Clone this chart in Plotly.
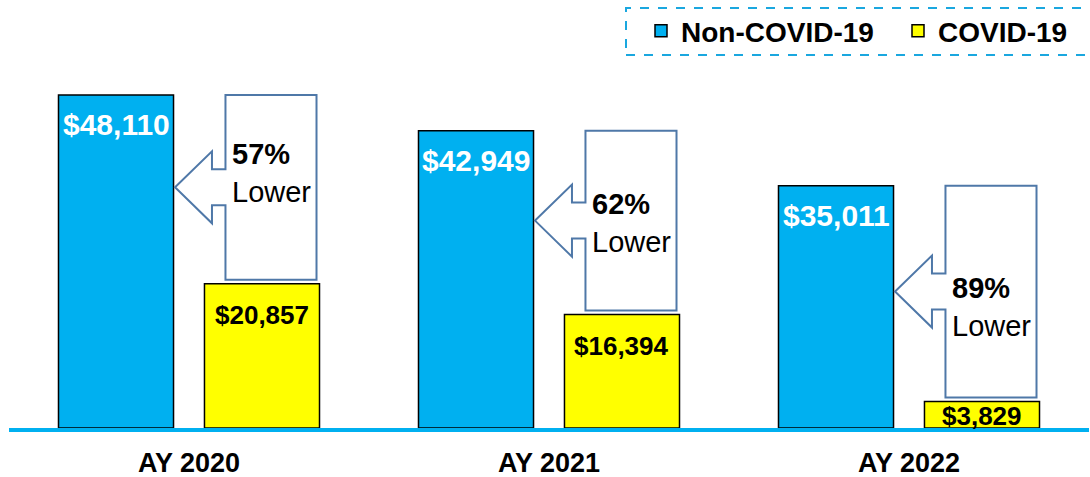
import plotly.graph_objects as go

# ---- data ----
categories = ["AY 2020", "AY 2021", "AY 2022"]
non_covid = [48110, 42949, 35011]
covid = [20857, 16394, 3829]
pct_lower = ["57%", "62%", "89%"]
series_names = ["Non-COVID-19", "COVID-19"]

# ---- styling (pixel offsets of callout text relative to callout centre) ----
callout_text_dy = [-14, 2, 15]

# ---- layout constants ----
W, H = 1090, 477
M_L, M_R, M_T, M_B = 9, 1, 60, 49
plot_w = W - M_L - M_R
plot_h = H - M_T - M_B
ymax = max(non_covid) * plot_h / 333.0
u = ymax / plot_h  # data units per pixel


def py2paper(py):
    return (M_T + plot_h - py) / plot_h


def px2paper(px):
    return (px - M_L) / plot_w


BARGAP = 0.189
BARGROUPGAP = 0.212
cat_px = plot_w / len(categories)
slot_px = cat_px * (1 - BARGAP) / 2
bar_px = slot_px * (1 - BARGROUPGAP)

BLUE = "#00B0F0"
YELLOW = "#FFFF00"
CALLOUT = "#4F78A8"
FONT = "Arial, Liberation Sans, sans-serif"
FS_BLUE, FS_YEL, FS_CALL, FS_LEG, FS_TICK = 30, 26, 29, 28, 27

xs = list(range(len(categories)))

fig = go.Figure()
fig.add_bar(x=xs, y=non_covid, name=series_names[0], marker=dict(color=BLUE, line=dict(color="black", width=1.5)))
fig.add_bar(x=xs, y=covid, name=series_names[1], marker=dict(color=YELLOW, line=dict(color="black", width=1.5)))

annotations = []
shapes = []
for i, (a, b, p) in enumerate(zip(non_covid, covid, pct_lower)):
    # value labels
    annotations.append(dict(x=i, y=a, xref="x", yref="y", xshift=-slot_px / 2,
                            yshift=-(22 - 0.36 * FS_BLUE),
                            text=f"${a:,}", showarrow=False, yanchor="top",
                            font=dict(family=FONT, size=FS_BLUE, color="white", weight="bold")))
    bpx = b / u
    gap = min(23.5, bpx - 20)
    annotations.append(dict(x=i, y=b, xref="x", yref="y", xshift=slot_px / 2,
                            yshift=-(gap - 0.36 * FS_YEL),
                            text=f"${b:,}", showarrow=False, yanchor="top",
                            font=dict(family=FONT, size=FS_YEL, color="black", weight="bold")))
    # callout arrow
    tip_x = -slot_px / 2 + bar_px / 2 + 1.5
    body_l = slot_px / 2 - bar_px / 2 + 21
    body_r = slot_px / 2 + bar_px / 2 - 3
    head_b = body_l - 13.5
    top = a
    bot = b + 4 * u
    mid = (top + bot) / 2
    nk = 18 * u
    hd = 36 * u
    pts = [(body_l, top), (body_r, top), (body_r, bot), (body_l, bot),
           (body_l, mid - nk), (head_b, mid - nk), (head_b, mid - hd), (tip_x, mid),
           (head_b, mid + hd), (head_b, mid + nk), (body_l, mid + nk)]
    path = "M " + " L ".join(f"{px:.2f},{py:.2f}" for px, py in pts) + " Z"
    shapes.append(dict(type="path", xref="x", yref="y", xsizemode="pixel", xanchor=i,
                       path=path, fillcolor="white", line=dict(color=CALLOUT, width=2),
                       layer="above"))
    annotations.append(dict(x=i, y=mid, xref="x", yref="y", xshift=body_l + 5,
                            yshift=-callout_text_dy[i],
                            xanchor="left", yanchor="middle", align="left", showarrow=False,
                            text=f"<b>{p}</b><br>Lower",
                            font=dict(family=FONT, size=FS_CALL, color="black")))

# dashed legend box
shapes.append(dict(type="rect", xref="paper", yref="paper",
                   x0=px2paper(626), x1=px2paper(1100),
                   y0=py2paper(55), y1=py2paper(8),
                   line=dict(color="#1AA7DF", width=2, dash="dash"), fillcolor="rgba(0,0,0,0)",
                   layer="below"))

fig.update_layout(
    width=W, height=H,
    margin=dict(l=M_L, r=M_R, t=M_T, b=M_B, pad=0, autoexpand=False),
    paper_bgcolor="white", plot_bgcolor="white",
    barmode="group", bargap=BARGAP, bargroupgap=BARGROUPGAP,
    showlegend=True,
    legend=dict(orientation="h", x=px2paper(641), xanchor="left",
                y=py2paper(31), yanchor="middle",
                font=dict(family=FONT, size=FS_LEG, color="black", weight="bold"),
                bgcolor="rgba(0,0,0,0)", entrywidth=212, entrywidthmode="pixels",
                traceorder="normal"),
    xaxis=dict(tickvals=xs, ticktext=categories, range=[-0.5, len(categories) - 0.5],
               showgrid=False, zeroline=False, showline=True, linecolor=BLUE, linewidth=4,
               ticks="", ticklabelstandoff=8,
               tickfont=dict(family=FONT, size=FS_TICK, color="black", weight="bold"),
               fixedrange=True, automargin=False),
    yaxis=dict(range=[0, ymax], visible=False, showgrid=False, zeroline=False, fixedrange=True),
    annotations=annotations, shapes=shapes,
)

fig.write_html("out.html", config={"displayModeBar": False},
               post_script="document.body.style.margin='0';")
